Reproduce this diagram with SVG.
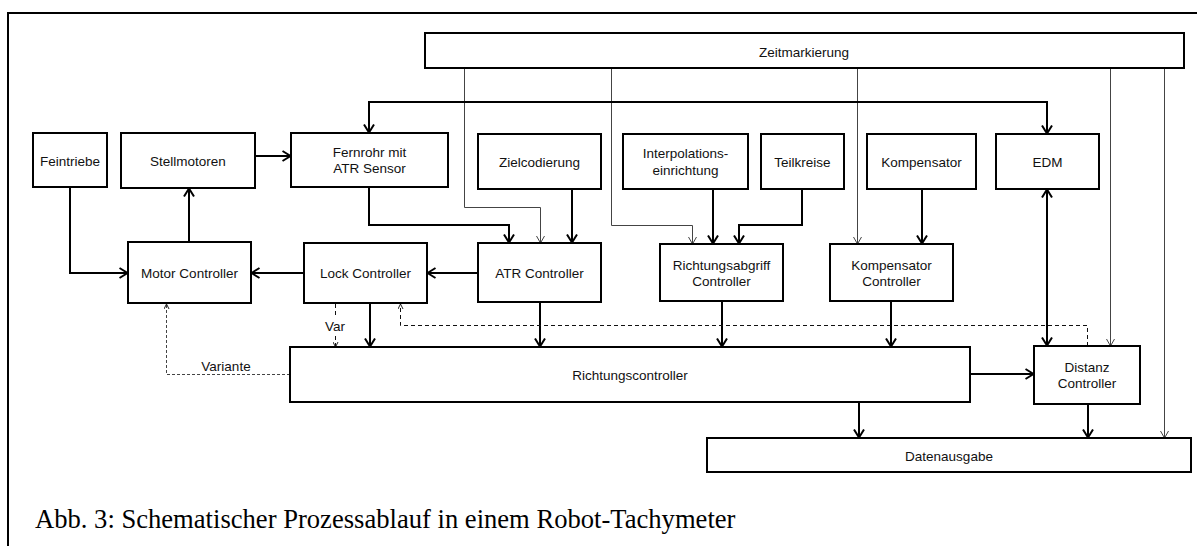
<svg xmlns="http://www.w3.org/2000/svg" width="1197" height="546" viewBox="0 0 1197 546">
<style>
.box{fill:#fff;stroke:#000;stroke-width:2}
.t{font-family:"Liberation Sans",Arial,sans-serif;font-size:13.5px;fill:#111;text-anchor:middle}
.thick{fill:none;stroke:#000;stroke-width:2}
.thin{fill:none;stroke:#444;stroke-width:1}
.dash{fill:none;stroke:#111;stroke-width:1;stroke-dasharray:4,3}
.dashg{fill:none;stroke:#444;stroke-width:1;stroke-dasharray:3,2}
</style>
<defs>
<marker id="a" viewBox="0 0 10 12" refX="9.5" refY="6" markerWidth="10" markerHeight="12" markerUnits="userSpaceOnUse" orient="auto-start-reverse"><path d="M1,1 L9,6 L1,11" fill="none" stroke="#000" stroke-width="2"/></marker>
<marker id="b" viewBox="0 0 8 10" refX="7.5" refY="5" markerWidth="8" markerHeight="10" markerUnits="userSpaceOnUse" orient="auto"><path d="M0.5,1 L7.5,5 L0.5,9" fill="none" stroke="#444" stroke-width="1"/></marker>
<marker id="c" viewBox="0 0 6 6" refX="5.5" refY="3" markerWidth="6" markerHeight="6" markerUnits="userSpaceOnUse" orient="auto"><path d="M0.5,0.5 L5.5,3 L0.5,5.5" fill="none" stroke="#222" stroke-width="1"/></marker>
</defs>
<rect x="8" y="13" width="1200" height="545" fill="none" stroke="#000" stroke-width="2"/>
<g id="connectors">
<path class="thin" d="M464.5,68 V207.5 H540.5 V243" marker-end="url(#b)"/>
<path class="thin" d="M611.5,68 V225.5 H692.5 V244" marker-end="url(#b)"/>
<path class="thin" d="M857.5,68 V244" marker-end="url(#b)"/>
<path class="thin" d="M1110.5,68 V346" marker-end="url(#b)"/>
<path class="thin" d="M1164.5,68 V438" marker-end="url(#b)"/>
<path class="thick" d="M369,133 V102 H1047 V134" marker-start="url(#a)" marker-end="url(#a)"/>
<path class="thick" d="M70,187 V273 H128" marker-end="url(#a)"/>
<path class="thick" d="M189,242 V188" marker-end="url(#a)"/>
<path class="thick" d="M255,156 H291" marker-end="url(#a)"/>
<path class="thick" d="M304,273 H251" marker-end="url(#a)"/>
<path class="thick" d="M478,273 H427" marker-end="url(#a)"/>
<path class="thick" d="M369,187 V225 H509 V243" marker-end="url(#a)"/>
<path class="thick" d="M572,189 V243" marker-end="url(#a)"/>
<path class="thick" d="M713,189 V244" marker-end="url(#a)"/>
<path class="thick" d="M802,189 V225 H739 V244" marker-end="url(#a)"/>
<path class="thick" d="M922,189 V244" marker-end="url(#a)"/>
<path class="thick" d="M1047,189 V346" marker-start="url(#a)" marker-end="url(#a)"/>
<path class="thick" d="M370,303 V347" marker-end="url(#a)"/>
<path class="thick" d="M540,302 V347" marker-end="url(#a)"/>
<path class="thick" d="M722,301 V347" marker-end="url(#a)"/>
<path class="thick" d="M891,301 V347" marker-end="url(#a)"/>
<path class="thick" d="M970,374 H1034" marker-end="url(#a)"/>
<path class="thick" d="M859,402 V438" marker-end="url(#a)"/>
<path class="thick" d="M1088,404 V438" marker-end="url(#a)"/>
<path class="dash" d="M1087.5,346 V325.5 H400.5 V304" marker-end="url(#c)"/>
<path class="dash" d="M335.5,304 V316"/>
<path class="dash" d="M335.5,336 V347" marker-end="url(#c)"/>
<path class="dashg" d="M290,374.5 H166.5 V304" marker-end="url(#c)"/>
<text class="t" x="335" y="331">Var</text>
<text class="t" x="226" y="371">Variante</text>
</g>
<g id="zeit"><rect class="box" x="425" y="33" width="759" height="35"/><text class="t" x="804" y="57">Zeitmarkierung</text></g>
<g id="feintriebe"><rect class="box" x="33" y="133" width="74" height="54"/><text class="t" x="70" y="166">Feintriebe</text></g>
<g id="stellmotoren"><rect class="box" x="121" y="133" width="134" height="55"/><text class="t" x="188" y="166">Stellmotoren</text></g>
<g id="fernrohr"><rect class="box" x="291" y="133" width="157" height="54"/><text class="t" x="369.5" y="157">Fernrohr mit</text><text class="t" x="369.5" y="173">ATR Sensor</text></g>
<g id="zielcodierung"><rect class="box" x="478" y="134" width="123" height="55"/><text class="t" x="539.5" y="167">Zielcodierung</text></g>
<g id="interpolation"><rect class="box" x="623" y="134" width="125" height="55"/><text class="t" x="685.5" y="158">Interpolations-</text><text class="t" x="685.5" y="175">einrichtung</text></g>
<g id="teilkreise"><rect class="box" x="761" y="134" width="83" height="55"/><text class="t" x="802.5" y="167">Teilkreise</text></g>
<g id="kompensator"><rect class="box" x="867" y="134" width="109" height="55"/><text class="t" x="921.5" y="167">Kompensator</text></g>
<g id="edm"><rect class="box" x="996" y="134" width="103" height="55"/><text class="t" x="1047.5" y="167">EDM</text></g>
<g id="motor"><rect class="box" x="128" y="242" width="123" height="61"/><text class="t" x="189.5" y="278">Motor Controller</text></g>
<g id="lock"><rect class="box" x="304" y="243" width="123" height="60"/><text class="t" x="365.5" y="278">Lock Controller</text></g>
<g id="atr"><rect class="box" x="478" y="243" width="123" height="59"/><text class="t" x="539.5" y="278">ATR Controller</text></g>
<g id="richtungsabgriff"><rect class="box" x="660" y="244" width="123" height="57"/><text class="t" x="721.5" y="270">Richtungsabgriff</text><text class="t" x="721.5" y="286">Controller</text></g>
<g id="kompctrl"><rect class="box" x="830" y="244" width="123" height="57"/><text class="t" x="891.5" y="270">Kompensator</text><text class="t" x="891.5" y="286">Controller</text></g>
<g id="richtungscontroller"><rect class="box" x="290" y="347" width="680" height="55"/><text class="t" x="630" y="380">Richtungscontroller</text></g>
<g id="distanz"><rect class="box" x="1034" y="346" width="106" height="58"/><text class="t" x="1087" y="372">Distanz</text><text class="t" x="1087" y="388">Controller</text></g>
<g id="datenausgabe"><rect class="box" x="707" y="438" width="484" height="34"/><text class="t" x="949" y="461">Datenausgabe</text></g>
<text x="35" y="528" font-family="'Liberation Serif','Times New Roman',serif" font-size="26.6" fill="#000">Abb. 3: Schematischer Prozessablauf in einem Robot-Tachymeter</text>
</svg>
